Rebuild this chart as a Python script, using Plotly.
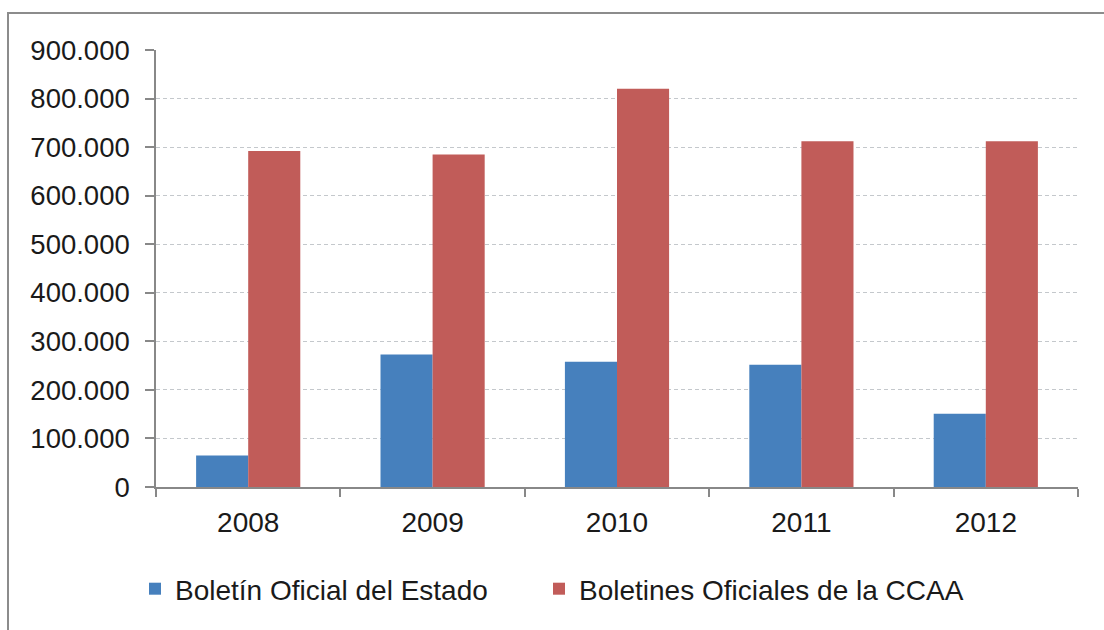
import plotly.graph_objects as go

years = ["2008", "2009", "2010", "2011", "2012"]
boe = [65000, 273000, 258000, 252000, 151000]
ccaa = [692000, 685000, 820000, 712000, 712000]

series_names = ["Boletín Oficial del Estado", "Boletines Oficiales de la CCAA"]
y_ticks = [0, 100000, 200000, 300000, 400000, 500000, 600000, 700000, 800000, 900000]

BLUE = "#4680BD"
RED = "#C15C59"
AXIS = "#888888"
FONT = "Liberation Sans, Arial, sans-serif"

fig = go.Figure()
fig.add_trace(go.Bar(x=years, y=boe, name=series_names[0], marker_color=BLUE,
                     marker_line_width=0, legend="legend"))
fig.add_trace(go.Bar(x=years, y=ccaa, name=series_names[1], marker_color=RED,
                     marker_line_width=0, legend="legend2"))

W, H = 1104, 630
L, R, T, B = 156, 26, 50, 143
pw, ph = W - L - R, H - T - B

def px_x(p):
    return (p - L) / pw

def px_y(p):
    return (H - B - p) / ph

legend_style = dict(orientation="h", xanchor="left", y=px_y(589),
                    yanchor="middle", font=dict(size=28), itemwidth=30,
                    bgcolor="rgba(0,0,0,0)")

fig.update_layout(
    width=W, height=H,
    margin=dict(l=L, r=R, t=T, b=B),
    paper_bgcolor="white", plot_bgcolor="white",
    separators=",.",
    barmode="group",
    bargap=0.435, bargroupgap=0,
    font=dict(family=FONT, size=28, color="#1a1a1a"),
    showlegend=True,
    legend=dict(x=px_x(135), **legend_style),
    legend2=dict(x=px_x(539), **legend_style),
    xaxis=dict(type="category", showgrid=False, showline=True,
               linecolor=AXIS, linewidth=1.5, ticks="outside",
               tickson="boundaries", ticklen=8, tickwidth=1.5,
               tickcolor=AXIS, tickfont=dict(size=28), ticklabelstandoff=10),
    yaxis=dict(range=[0, 900000], tickvals=y_ticks, tickformat=",d",
               showline=True, linecolor=AXIS, linewidth=1.5,
               ticks="outside", ticklen=9, tickwidth=1.5, tickcolor=AXIS,
               showgrid=True, gridcolor="#C4C8CC", gridwidth=1,
               griddash="4px,3px", zeroline=False,
               tickfont=dict(size=27.5), ticklabelstandoff=10),
    shapes=[dict(type="rect", xref="paper", yref="paper",
                 x0=px_x(8), x1=px_x(1115), y0=px_y(645), y1=px_y(13),
                 line=dict(color="#8C8C8C", width=2), fillcolor="rgba(0,0,0,0)",
                 layer="below")],
)

fig.write_html("out.html")
